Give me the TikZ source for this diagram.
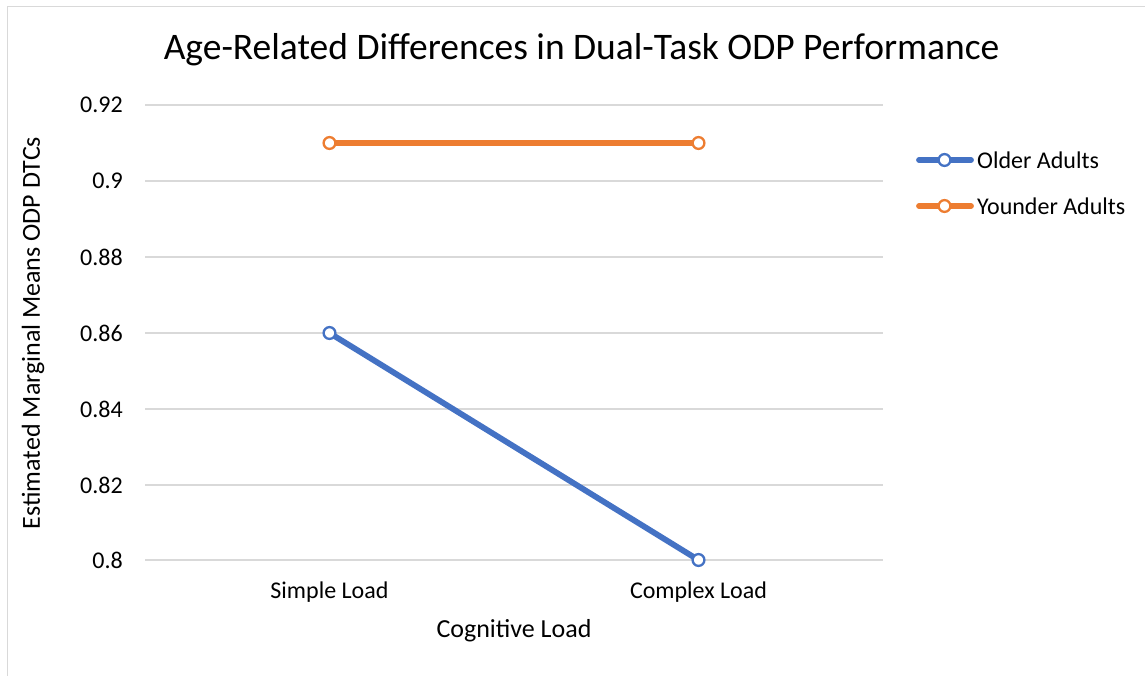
\documentclass[tikz,border=0pt]{standalone}
\usepackage{fontspec}
\setmainfont{Carlito}
\definecolor{seriesA}{HTML}{4472C4}
\definecolor{seriesB}{HTML}{ED7D31}
\definecolor{gridc}{HTML}{D9D9D9}
\definecolor{txt}{HTML}{000000}
\begin{document}
\begin{tikzpicture}[x=1pt,y=-1pt,
  grid line/.style={draw=gridc, line width=1.2pt},
  ticklab/.style={font=\fontsize{24}{28}\selectfont, text=txt, inner sep=0pt},
  axtitle/.style={font=\fontsize{26}{30}\selectfont, text=txt, inner sep=0pt},
  serie/.style={line width=5.8pt, line cap=round, line join=round},
  mk/.style={circle, draw=#1, fill=white, line width=2.3pt, minimum size=11.8pt, inner sep=0pt}
]
\useasboundingbox (0,0) rectangle (1145,675);
% chart frame
\draw[gridc, line width=1.2pt] (1146,6.5) -- (7.5,6.5) -- (7.5,676);
% title
\node[font=\fontsize{37.5}{42}\selectfont, inner sep=0pt] (title) at (581.5,50) {Age-Related Differences in Dual-Task ODP Performance};
% horizontal gridlines and value labels
\foreach \v/\y in {0.92/105,0.9/181,0.88/257,0.86/333,0.84/409,0.82/485,0.8/560}{
  \draw[grid line] (145,\y) -- (883,\y);
  \node[ticklab, anchor=east] at (123,\y) {\v};
}
% category labels
\node[ticklab] (c1) at (329.5,592) {Simple Load};
\node[ticklab] (c2) at (698.5,592) {Complex Load};
% axis titles
\node[axtitle] (xt) at (514,631) {Cognitive Load};
\node[axtitle, rotate=90] (yt) at (33,333) {Estimated Marginal Means ODP DTCs};
% data points
\coordinate (a1) at (329.5,333);
\coordinate (a2) at (698.5,560);
\coordinate (b1) at (329.5,143);
\coordinate (b2) at (698.5,143);
% series lines with markers on top
\draw[serie, seriesA] (a1) -- (a2);
\draw[serie, seriesB] (b1) -- (b2);
\node[mk=seriesA] (ma1) at (a1) {};
\node[mk=seriesA] (ma2) at (a2) {};
\node[mk=seriesB] (mb1) at (b1) {};
\node[mk=seriesB] (mb2) at (b2) {};
% legend
\coordinate (la0) at (919,160); \coordinate (la1) at (971,160);
\coordinate (lb0) at (919,206); \coordinate (lb1) at (971,206);
\draw[serie, seriesA] (la0) -- (la1);
\draw[serie, seriesB] (lb0) -- (lb1);
\node[mk=seriesA] (lam) at (944.5,160) {};
\node[mk=seriesB] (lbm) at (944.5,206) {};
\node[ticklab, anchor=west] (la) at (977,160) {Older Adults};
\node[ticklab, anchor=west] (lb) at (977,206) {Younder Adults};
\end{tikzpicture}
\end{document}
